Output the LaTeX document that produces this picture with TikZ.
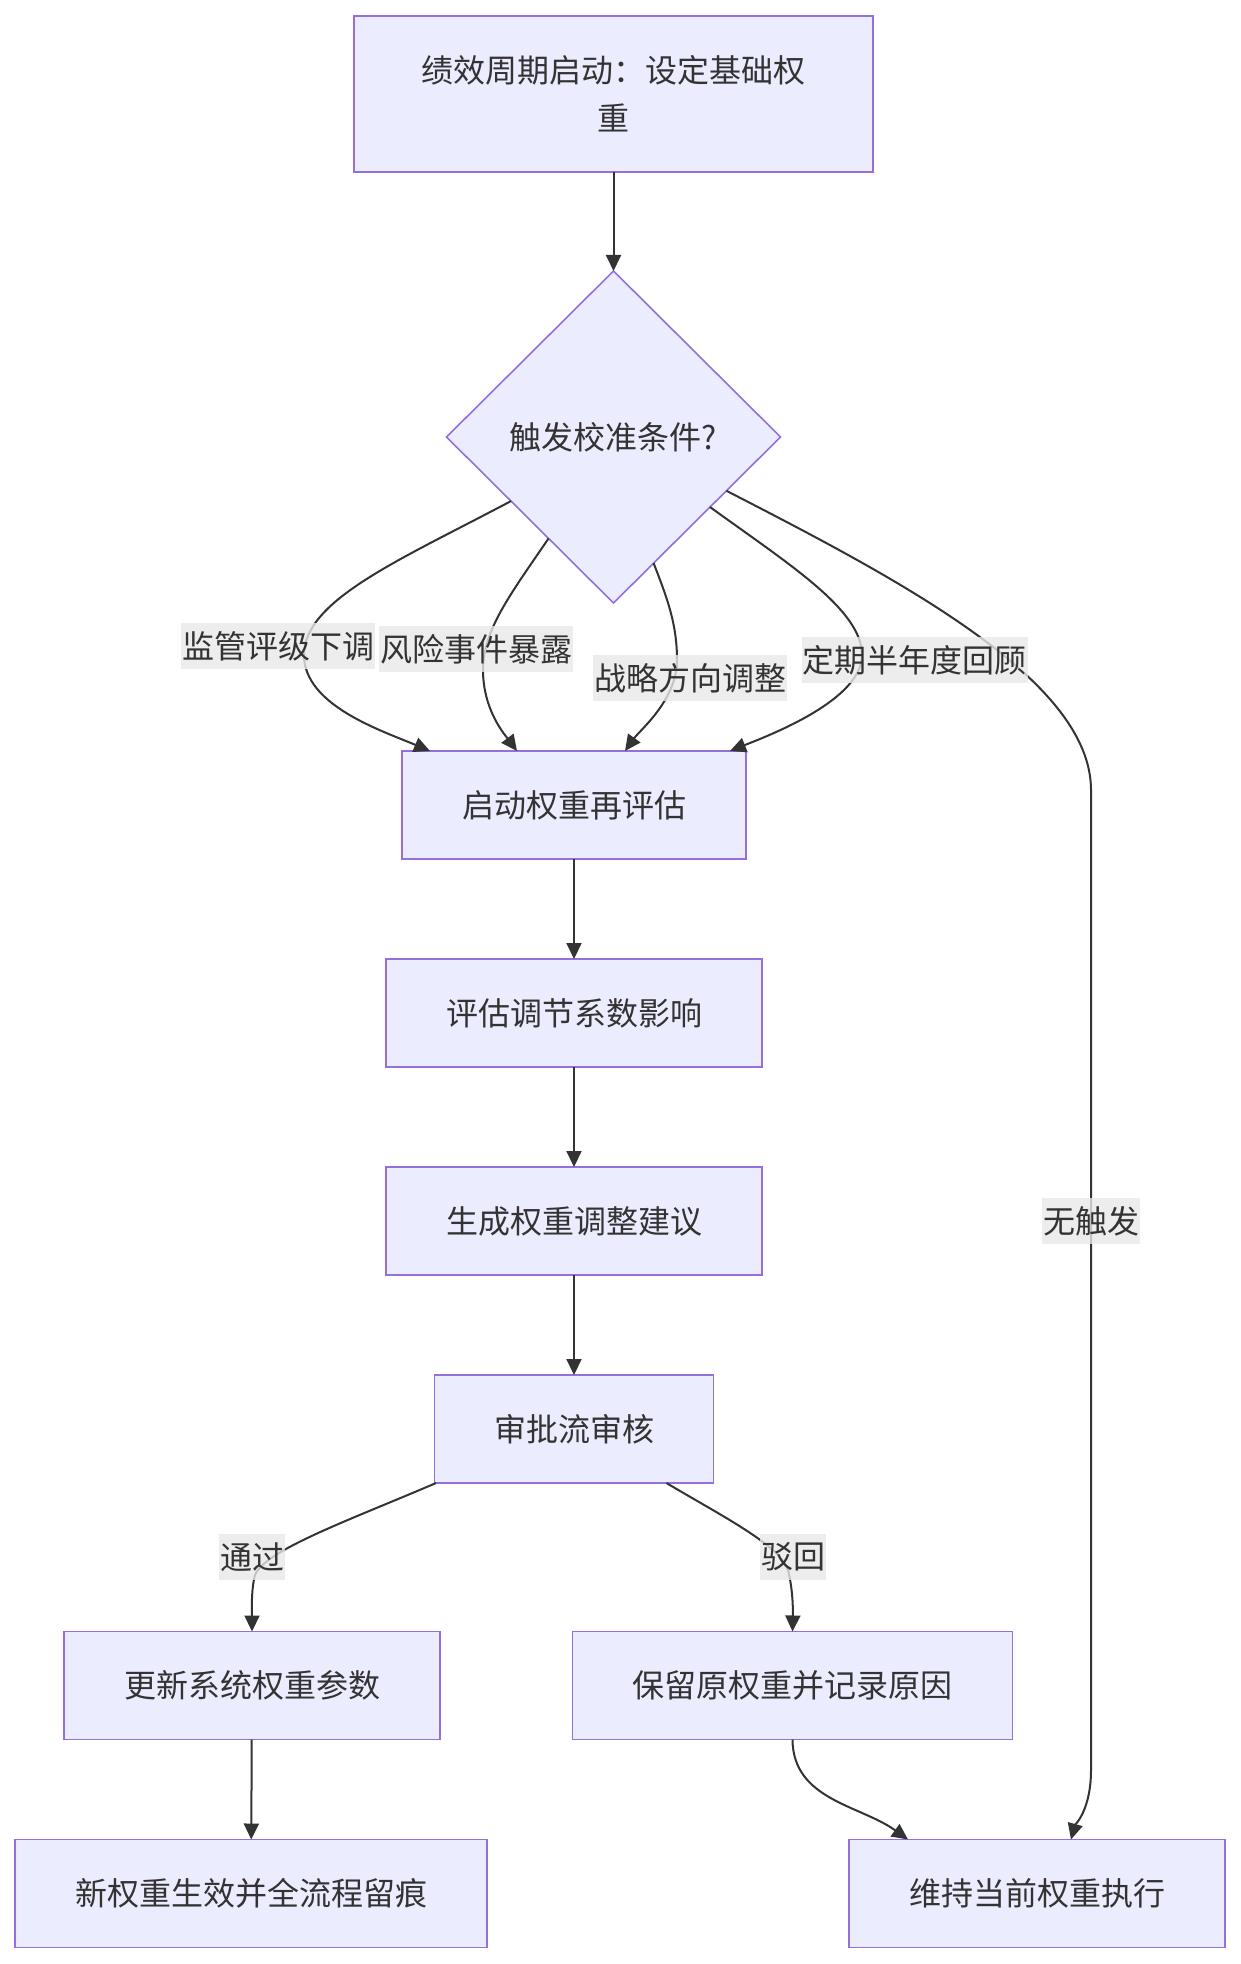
\documentclass[tikz,border=0pt]{standalone}
\usepackage{fontspec}
\setmainfont{Noto Sans CJK SC}
\usepackage{xcolor}
\usepackage{tikz}
\usetikzlibrary{arrows.meta, positioning, shapes.geometric, calc}
\definecolor{nodefill}{HTML}{ECECFF}
\definecolor{nodeline}{HTML}{9370DB}
\definecolor{ink}{HTML}{333333}
\definecolor{labelbg}{HTML}{E8E8E8}

\begin{document}
\begin{tikzpicture}[
  x=1pt, y=-1pt,
  node distance=100pt and 100pt,
  box/.style={rectangle, draw=nodeline, fill=nodefill, line width=1.6pt, minimum height=108pt, font=\fontsize{32}{48}\selectfont, text=ink, align=center, inner sep=0pt, outer sep=0pt},
  decision/.style={diamond, aspect=1, draw=nodeline, fill=nodefill, line width=1.6pt, minimum width=334pt, minimum height=332pt, inner sep=0pt, outer sep=0pt, font=\fontsize{32}{48}\selectfont, text=ink},
  flow/.style={-{Triangle[length=16pt, width=15pt]}, draw=ink, line width=2pt},
  elabel/.style={fill=labelbg, fill opacity=0.8, text opacity=1, text=ink, font=\fontsize{32}{48}\selectfont, inner xsep=1pt, inner ysep=0pt, minimum height=46pt}
]
\useasboundingbox (0,0) rectangle (1241,1964);
\node[box, minimum width=519pt, minimum height=156pt] (start) at (613.5,94) {绩效周期启动：设定基础权\\重};
\node[decision] (check) at (613.5,437) {触发校准条件?};
\node[box, minimum width=344pt] (reeval) at (574,805) {启动权重再评估};
\node[box, minimum width=376pt, below=of reeval] (assess) {评估调节系数影响};
\node[box, minimum width=376pt, below=of assess] (suggest) {生成权重调整建议};
\node[box, minimum width=279pt, below=of suggest] (approve) {审批流审核};
\node[box, minimum width=376pt] (update) at (252,1685.5) {更新系统权重参数};
\node[box, minimum width=440pt] (retain) at (792.5,1685.5) {保留原权重并记录原因};
\node[box, minimum width=472pt] (apply) at (251,1893.5) {新权重生效并全流程留痕};
\node[box, minimum width=376pt] (keep) at (1037,1893.5) {维持当前权重执行};
% start points on the diamond
\coordinate (s1) at ($(check.west)!0.386!(check.south)$);
\coordinate (s2) at ($(check.west)!0.611!(check.south)$);
\coordinate (s3) at ($(check.south)!0.24!(check.east)$);
\coordinate (s4) at ($(check.south)!0.578!(check.east)$);
\coordinate (s5) at ($(check.south)!0.676!(check.east)$);
\draw[flow] (start) -- (check);
\draw[flow] (s1) .. controls (400,560) and (304,600) .. (304,655) .. controls (304,705) and (380,730) .. ([xshift=-144pt]reeval.north);
\draw[flow] (s2) .. controls (510,595) and (483,630) .. (483,670) .. controls (483,710) and (505,735) .. ([xshift=-57pt]reeval.north);
\draw[flow] (s3) .. controls (668,600) and (677,625) .. (677,660) .. controls (677,700) and (640,730) .. ([xshift=51pt]reeval.north);
\draw[flow] (s4) .. controls (790,565) and (862,610) .. (862,655) .. controls (862,700) and (770,735) .. ([xshift=156pt]reeval.north);
\draw[flow] (s5) .. controls (900,580) and (1091,680) .. (1091,790) -- (1091,1770) .. controls (1091,1810) and (1075,1825) .. ([xshift=34pt]keep.north);
\draw[flow] (reeval) -- (assess);
\draw[flow] (assess) -- (suggest);
\draw[flow] (suggest) -- (approve);
\draw[flow] ([xshift=1.5pt]approve.south west) .. controls (350,1520) and (265,1550) .. (255,1575) .. controls (251,1590) and (252,1610) .. (update.north);
\draw[flow] ([xshift=92.5pt]approve.south) .. controls (720,1515) and (780,1545) .. (788,1570) .. controls (793,1590) and (793,1610) .. (retain.north);
\draw[flow] (update) -- (apply);
\draw[flow] (retain.south) .. controls (793,1800) and (860,1805) .. ([xshift=-129pt]keep.north);
% edge labels
\node[elabel] (l1) at (278,646) {监管评级下调};
\node[elabel] (l2) at (476,649) {风险事件暴露};
\node[elabel] (l3) at (690,678) {战略方向调整};
\node[elabel] (l4) at (914.5,660) {定期半年度回顾};
\node[elabel] (l5) at (1091,1221) {无触发};
\node[elabel] (l6) at (252,1557) {通过};
\node[elabel] (l7) at (793,1557) {驳回};
\end{tikzpicture}
\end{document}
